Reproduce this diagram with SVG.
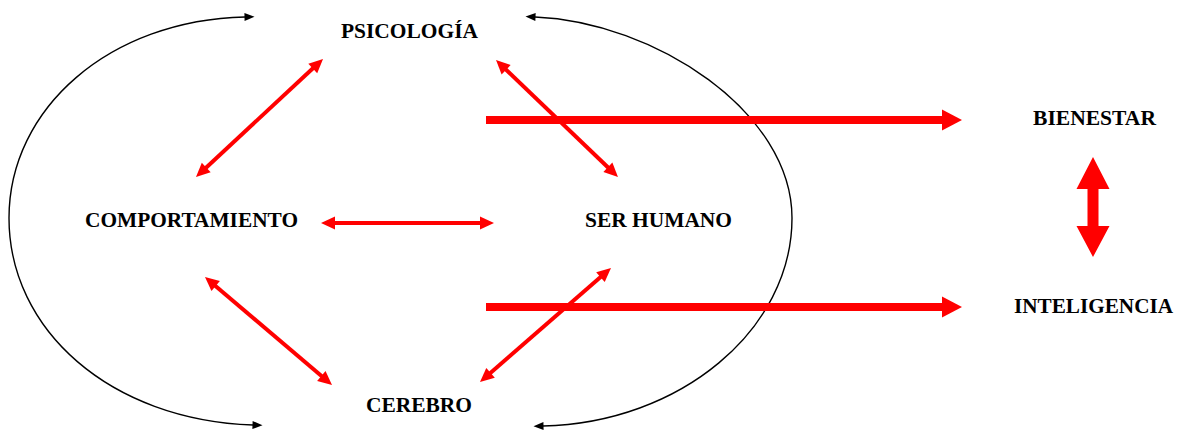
<svg xmlns="http://www.w3.org/2000/svg" width="1179" height="430" viewBox="0 0 1179 430">
  <style>
    .lbl { font-family: "Liberation Serif", "Times New Roman", serif; font-weight: bold; font-size: 21px; fill: #000; }
    .thin { stroke: #ff0000; stroke-width: 4; fill: none; marker-start: url(#rh); marker-end: url(#rh); }
    .thick { stroke: #ff0000; stroke-width: 8; fill: none; marker-end: url(#rhBig); }
    .arc { stroke: #000; stroke-width: 1.4; fill: none; marker-start: url(#bh); marker-end: url(#bh); }
  </style>
  <defs>
    <marker id="rh" markerUnits="userSpaceOnUse" markerWidth="16" markerHeight="14" refX="1" refY="6.5" orient="auto-start-reverse" overflow="visible">
      <path d="M0,0 L14,6.5 L0,13 z" fill="#ff0000"/>
    </marker>
    <marker id="rhBig" markerUnits="userSpaceOnUse" markerWidth="22" markerHeight="22" refX="1" refY="10.5" orient="auto" overflow="visible">
      <path d="M0,0 L20,10.5 L0,21 z" fill="#ff0000"/>
    </marker>
    <marker id="bh" markerUnits="userSpaceOnUse" markerWidth="12" markerHeight="10" refX="0.5" refY="4" orient="auto-start-reverse" overflow="visible">
      <path d="M0,0 L10,4 L0,8 z" fill="#000"/>
    </marker>
  </defs>

  <g id="connectors">
    <path class="arc" d="M 245 17 C 110 20 9 108 9 218 C 9 330 110 420 253 425"/>
    <path class="arc" d="M 535 17 C 655 22 792 112 792 218 C 792 330 680 423 543 426"/>
    <line class="thin" x1="313.5" y1="67.8" x2="205.5" y2="168.2"/>
    <line class="thin" x1="505.4" y1="69" x2="608.6" y2="168"/>
    <line class="thin" x1="334" y1="223" x2="481" y2="223"/>
    <line class="thin" x1="214.9" y1="285.4" x2="322.1" y2="376.6"/>
    <line class="thin" x1="601.2" y1="276.5" x2="489.8" y2="373.5"/>
    <line class="thick" x1="486" y1="120" x2="943" y2="120"/>
    <line class="thick" x1="486" y1="307" x2="943" y2="307"/>
    <polygon fill="#ff0000" points="1093,157 1109.5,189 1098.5,189 1098.5,226 1109.5,226 1093,257 1076.5,226 1087.5,226 1087.5,189 1076.5,189"/>
  </g>

  <g id="psicologia"><text class="lbl" x="341" y="38" textLength="137" lengthAdjust="spacingAndGlyphs">PSICOLOGÍA</text></g>
  <g id="comportamiento"><text class="lbl" x="85" y="227" textLength="213" lengthAdjust="spacingAndGlyphs">COMPORTAMIENTO</text></g>
  <g id="ser-humano"><text class="lbl" x="585" y="227" textLength="147" lengthAdjust="spacingAndGlyphs">SER HUMANO</text></g>
  <g id="cerebro"><text class="lbl" x="366" y="412" textLength="106" lengthAdjust="spacingAndGlyphs">CEREBRO</text></g>
  <g id="bienestar"><text class="lbl" x="1033" y="125" textLength="123" lengthAdjust="spacingAndGlyphs">BIENESTAR</text></g>
  <g id="inteligencia"><text class="lbl" x="1014" y="313" textLength="159" lengthAdjust="spacingAndGlyphs">INTELIGENCIA</text></g>
</svg>
